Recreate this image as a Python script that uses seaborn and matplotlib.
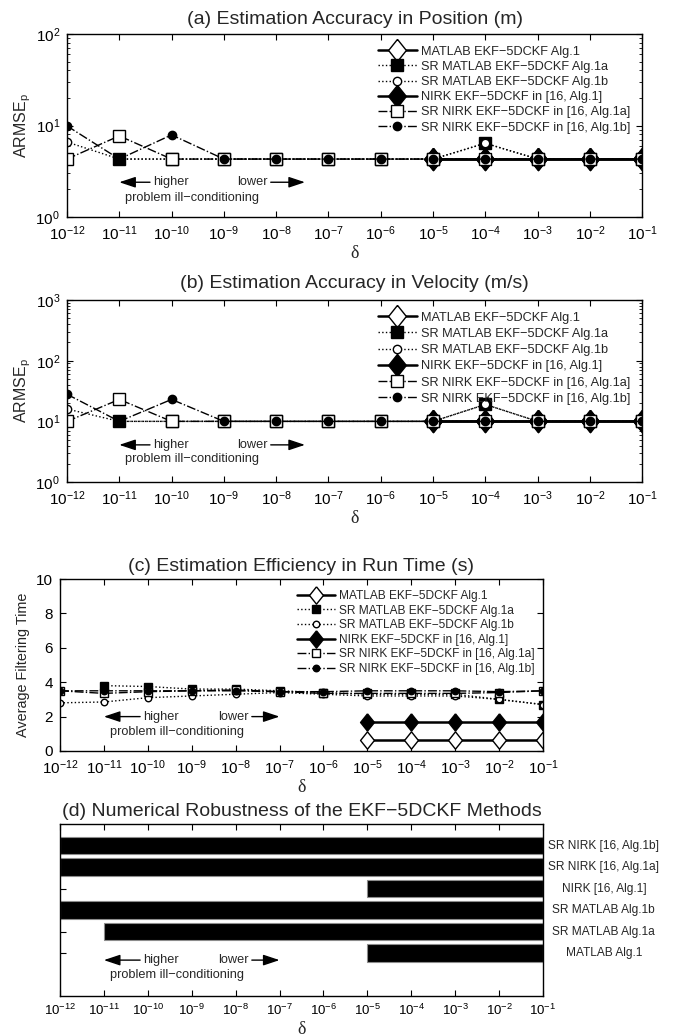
import numpy as np
import matplotlib
matplotlib.use("Agg")
import matplotlib.pyplot as plt
import matplotlib.transforms as mtransforms
from matplotlib.ticker import LogLocator, NullFormatter, FixedLocator
import seaborn as sns

nan = np.nan

# ---- values ----
delta = [1e-12, 1e-11, 1e-10, 1e-9, 1e-8, 1e-7, 1e-6, 1e-5, 1e-4, 1e-3, 1e-2, 1e-1]
delta_labels = [r"$10^{-12}$", r"$10^{-11}$", r"$10^{-10}$", r"$10^{-9}$", r"$10^{-8}$",
                r"$10^{-7}$", r"$10^{-6}$", r"$10^{-5}$", r"$10^{-4}$", r"$10^{-3}$",
                r"$10^{-2}$", r"$10^{-1}$"]

method_names = ["MATLAB EKF\u22125DCKF Alg.1",
                "SR MATLAB EKF\u22125DCKF Alg.1a",
                "SR MATLAB EKF\u22125DCKF Alg.1b",
                "NIRK EKF\u22125DCKF in [16, Alg.1]",
                "SR NIRK EKF\u22125DCKF in [16, Alg.1a]",
                "SR NIRK EKF\u22125DCKF in [16, Alg.1b]"]

# (a) ARMSE position
pos_matlab = [nan, nan, nan, nan, nan, nan, nan, 4.3, 4.3, 4.3, 4.3, 4.3]
pos_sr_matlab_a = [nan, 4.3, 4.3, 4.3, 4.3, 4.3, 4.3, 4.3, 6.4, 4.3, 4.3, 4.3]
pos_sr_matlab_b = [6.6, 4.3, 4.3, 4.3, 4.3, 4.3, 4.3, 4.3, 6.4, 4.3, 4.3, 4.3]
pos_nirk = [nan, nan, nan, nan, nan, nan, nan, 4.3, 4.3, 4.3, 4.3, 4.3]
pos_sr_nirk_a = [4.3, 7.7, 4.3, 4.3, 4.3, 4.3, 4.3, 4.3, 4.3, 4.3, 4.3, 4.3]
pos_sr_nirk_b = [9.9, 4.3, 7.9, 4.3, 4.3, 4.3, 4.3, 4.3, 4.3, 4.3, 4.3, 4.3]

# (b) ARMSE velocity
vel_matlab = [nan, nan, nan, nan, nan, nan, nan, 10, 10, 10, 10, 10]
vel_sr_matlab_a = [nan, 10, 10, 10, 10, 10, 10, 10, 19, 10, 10, 10]
vel_sr_matlab_b = [16, 10, 10, 10, 10, 10, 10, 10, 19, 10, 10, 10]
vel_nirk = [nan, nan, nan, nan, nan, nan, nan, 10, 10, 10, 10, 10]
vel_sr_nirk_a = [10, 23, 10, 10, 10, 10, 10, 10, 10, 10, 10, 10]
vel_sr_nirk_b = [28, 10, 23, 10, 10, 10, 10, 10, 10, 10, 10, 10]

# (c) average filtering time
time_matlab = [nan, nan, nan, nan, nan, nan, nan, 0.62, 0.62, 0.62, 0.62, 0.62]
time_sr_matlab_a = [nan, 3.8, 3.75, 3.6, 3.6, 3.5, 3.4, 3.3, 3.3, 3.3, 3.0, 2.7]
time_sr_matlab_b = [2.8, 2.85, 3.1, 3.2, 3.3, 3.4, 3.3, 3.2, 3.2, 3.2, 3.0, 2.7]
time_nirk = [nan, nan, nan, nan, nan, nan, nan, 1.7, 1.7, 1.7, 1.7, 1.7]
time_sr_nirk_a = [3.5, 3.35, 3.45, 3.5, 3.55, 3.45, 3.35, 3.35, 3.35, 3.35, 3.4, 3.5]
time_sr_nirk_b = [3.5, 3.5, 3.5, 3.5, 3.5, 3.45, 3.45, 3.5, 3.5, 3.5, 3.45, 3.5]

# (d) robustness: range of delta where the method works
robust_names = ["MATLAB Alg.1", "SR MATLAB Alg.1a", "SR MATLAB Alg.1b",
                "NIRK [16, Alg.1]", "SR NIRK [16, Alg.1a]", "SR NIRK [16, Alg.1b]"]
robust_rows = [2, 3, 4, 5, 6, 7]
robust_from = [1e-5, 1e-11, 1e-12, 1e-5, 1e-12, 1e-12]
robust_to = [1e-1, 1e-1, 1e-1, 1e-1, 1e-1, 1e-1]

# ---- styling ----
sns.set_theme(style="ticks")
plt.rcParams["font.family"] = ["Liberation Sans", "DejaVu Sans"]
plt.rcParams["mathtext.fontset"] = "custom"
plt.rcParams["mathtext.rm"] = "Liberation Sans"
plt.rcParams["mathtext.it"] = "Liberation Sans:italic"
plt.rcParams["axes.linewidth"] = 1.0
plt.rcParams["axes.edgecolor"] = "black"

DIAMOND = [(0, 1), (0.8, 0), (0, -1), (-0.8, 0), (0, 1)]

line_styles = [
    dict(marker=DIAMOND, markersize=16, markerfacecolor="white", linestyle="-", linewidth=1.8),
    dict(marker="s", markersize=8, markerfacecolor="black", linestyle=":", linewidth=1.0),
    dict(marker="o", markersize=6, markerfacecolor="white", linestyle=":", linewidth=1.0),
    dict(marker=DIAMOND, markersize=16, markerfacecolor="black", linestyle="-", linewidth=1.8),
    dict(marker="s", markersize=8, markerfacecolor="white", linestyle="-.", linewidth=1.0),
    dict(marker="o", markersize=6, markerfacecolor="black", linestyle="-.", linewidth=1.0),
]


def setup_x(ax, tick_size):
    ax.set_xscale("log")
    ax.set_xlim(delta[0], delta[-1])
    ax.xaxis.set_major_locator(FixedLocator(delta))
    ax.set_xticklabels(delta_labels, fontsize=tick_size)
    ax.xaxis.set_minor_locator(LogLocator(base=10, subs=np.arange(2, 10)))
    ax.xaxis.set_minor_formatter(NullFormatter())
    ax.tick_params(which="both", direction="in", top=True, right=True,
                   colors="black", labelcolor="black")
    ax.tick_params(which="major", length=4, width=0.8, pad=5)
    ax.tick_params(which="minor", length=2, width=0.6)
    ax.tick_params(axis="y", labelsize=tick_size)
    ax.set_xlabel("\u03b4", family="Liberation Serif", fontsize=13, labelpad=2)
    for sp in ax.spines.values():
        sp.set_visible(True)
        sp.set_linewidth(1.0)


def draw_lines(ax, series, ms_scale=1.0):
    for vals, name, st in zip(series, method_names, line_styles):
        st = dict(st)
        st["markersize"] = st["markersize"] * ms_scale
        sns.lineplot(x=delta, y=vals, ax=ax, color="black", errorbar=None,
                     markeredgecolor="black", markeredgewidth=1.0, label=name, **st)


def add_conditioning(ax, y_arrow, y_text, x_higher, x_lower, x_lower_tip, x_center, fs=9.2):
    head = "-|>,head_length=0.9,head_width=0.3"
    ax.annotate("higher", xy=(1e-11, y_arrow), xytext=(x_higher, y_arrow),
                ha="left", va="center", fontsize=fs,
                arrowprops=dict(arrowstyle=head, color="black", lw=1.0, mutation_scale=11,
                                relpos=(0, 0.5), shrinkA=0, shrinkB=0))
    ax.annotate("lower", xy=(x_lower_tip, y_arrow), xytext=(x_lower, y_arrow),
                ha="left", va="center", fontsize=fs,
                arrowprops=dict(arrowstyle=head, color="black", lw=1.0, mutation_scale=11,
                                relpos=(1, 0.5), shrinkA=0, shrinkB=0))
    ax.text(x_center, y_text, "problem ill\u2212conditioning", ha="center", va="center", fontsize=fs)


fig = plt.figure(figsize=(6.8, 10.36), dpi=100)

# (a)
ax_a = fig.add_axes([0.0985, 0.7905, 0.846, 0.1767])
draw_lines(ax_a, [pos_matlab, pos_sr_matlab_a, pos_sr_matlab_b, pos_nirk, pos_sr_nirk_a, pos_sr_nirk_b])
ax_a.set_yscale("log")
ax_a.set_ylim(1, 100)
setup_x(ax_a, 11)
ax_a.set_ylabel(r"ARMSE$_{\rm p}$", fontsize=11.5, labelpad=2)
ax_a.set_title("(a) Estimation Accuracy in Position (m)", fontsize=14, pad=7)
add_conditioning(ax_a, 2.4, 1.6, 10**-10.35, 10**-8.75, 10**-7.45, 10**-9.6)
ax_a.legend(loc="upper right", bbox_to_anchor=(0.995, 0.985), frameon=False, fontsize=9.2,
            handlelength=3.1, handletextpad=0.3, labelspacing=0.25, numpoints=1, borderpad=0.2)

# (b)
ax_b = fig.add_axes([0.0985, 0.5347, 0.846, 0.1757])
draw_lines(ax_b, [vel_matlab, vel_sr_matlab_a, vel_sr_matlab_b, vel_nirk, vel_sr_nirk_a, vel_sr_nirk_b])
ax_b.set_yscale("log")
ax_b.set_ylim(1, 1000)
setup_x(ax_b, 11)
ax_b.set_ylabel(r"ARMSE$_{\rm p}$", fontsize=11.5, labelpad=2)
ax_b.set_title("(b) Estimation Accuracy in Velocity (m/s)", fontsize=14, pad=9)
add_conditioning(ax_b, 4.1, 2.4, 10**-10.35, 10**-8.75, 10**-7.45, 10**-9.6)
ax_b.legend(loc="upper right", bbox_to_anchor=(0.995, 0.985), frameon=False, fontsize=9.2,
            handlelength=3.1, handletextpad=0.3, labelspacing=0.33, numpoints=1, borderpad=0.2)

# (c)
ax_c = fig.add_axes([0.0882, 0.2751, 0.7103, 0.166])
draw_lines(ax_c, [time_matlab, time_sr_matlab_a, time_sr_matlab_b, time_nirk, time_sr_nirk_a, time_sr_nirk_b],
           ms_scale=0.78)
ax_c.set_ylim(0, 10)
ax_c.set_yticks([0, 2, 4, 6, 8, 10])
setup_x(ax_c, 11)
ax_c.set_ylabel("Average Filtering Time", fontsize=10.4, labelpad=4)
ax_c.set_title("(c) Estimation Efficiency in Run Time (s)", fontsize=14, pad=6)
add_conditioning(ax_c, 2.0, 1.1, 10**-10.1, 10**-8.4, 1e-7, 10**-9.33)
ax_c.legend(loc="upper right", bbox_to_anchor=(1.0, 0.985), frameon=False, fontsize=8.6,
            handlelength=3.2, handletextpad=0.3, labelspacing=0.22, numpoints=1, borderpad=0.2)

# (d)
ax_d = fig.add_axes([0.0882, 0.0386, 0.7103, 0.166])
widths = [b - a for a, b in zip(robust_from, robust_to)]
ax_d.barh(robust_rows, widths, left=robust_from, height=0.82, color="black",
          edgecolor="0.55", linewidth=0.8)
ax_d.set_ylim(0, 8)
ax_d.set_yticks(robust_rows)
ax_d.set_yticklabels([])
setup_x(ax_d, 9.5)
ax_d.set_title("(d) Numerical Robustness of the EKF\u22125DCKF Methods", fontsize=14, pad=6)
ytrans = mtransforms.blended_transform_factory(ax_d.transAxes, ax_d.transData)
for row, name in zip(robust_rows, robust_names):
    ax_d.text(1.126, row, name, transform=ytrans, ha="center", va="center", fontsize=8.6)
add_conditioning(ax_d, 1.67, 0.98, 10**-10.1, 10**-8.4, 1e-7, 10**-9.33)

fig.savefig("out.png", dpi=100)
